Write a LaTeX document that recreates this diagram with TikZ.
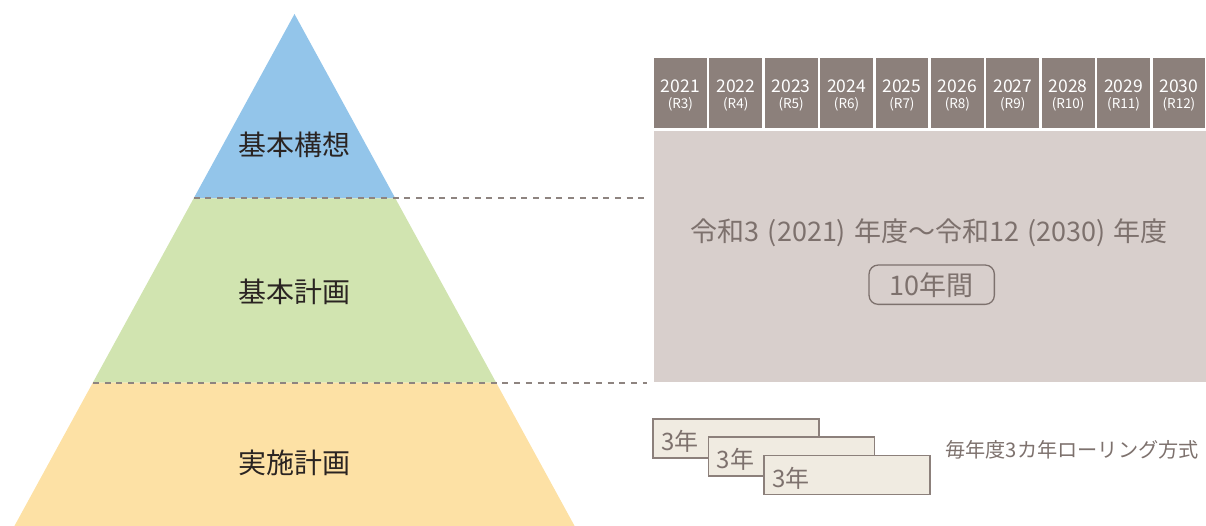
\documentclass[tikz,border=0pt]{standalone}
\usepackage{fontspec}
\setmainfont{Noto Sans CJK JP}
\definecolor{pblue}{HTML}{93C5EA}
\definecolor{pgreen}{HTML}{D1E4B0}
\definecolor{pyellow}{HTML}{FDE1A5}
\definecolor{hdr}{HTML}{8C807B}
\definecolor{boxgray}{HTML}{D8CFCC}
\definecolor{txtgray}{HTML}{7D716D}
\definecolor{dashgray}{HTML}{8E8480}
\definecolor{rollfill}{HTML}{F0EBE1}
\definecolor{darktext}{HTML}{2A2422}
\newcommand{\lp}{\hspace{0.3em}(}
\newcommand{\rp}{)\hspace{0.3em}}
\tikzset{
  plabel/.style={text=darktext, font=\fontsize{28}{30}\selectfont, inner sep=0pt},
  dashline/.style={draw=dashgray, line width=2pt, dash pattern=on 6pt off 5.7pt},
  yearbox/.style={fill=hdr, text=white, minimum width=52.7pt, minimum height=69.4pt, inner sep=0pt, align=center},
  rollbox/.style={draw=hdr, fill=rollfill, line width=1.6pt, minimum width=166pt, minimum height=39pt, inner sep=0pt},
  rolltext/.style={text=txtgray, font=\fontsize{24}{25}\selectfont, inner sep=0pt, anchor=west},
}
\begin{document}
\begin{tikzpicture}[x=1pt,y=-1pt]
\useasboundingbox (0,0) rectangle (1206,526);
% pyramid
\fill[pblue] (294.5,14) -- (395.3,198.3) -- (193.7,198.3) -- cycle;
\fill[pgreen] (193.7,198.3) -- (395.3,198.3) -- (496.1,382.5) -- (92.9,382.5) -- cycle;
\fill[pyellow] (92.9,382.5) -- (496.1,382.5) -- (574.6,526) -- (14.4,526) -- cycle;
\coordinate (d1s) at (193.7,198.3);
\coordinate (d1e) at (646.7,198.3);
\coordinate (d2s) at (92.9,382.5);
\coordinate (d2e) at (646.7,382.5);
\draw[dashline] (d1s) -- (d1e);
\draw[dashline] (d2s) -- (d2e);
\node[plabel] (kousou) at (294.5,145) {基本構想};
\node[plabel] (keikaku) at (294.5,292) {基本計画};
\node[plabel] (jisshi) at (294.5,463) {実施計画};
% year header
\foreach \i/\yr/\r in {0/2021/R3,1/2022/R4,2/2023/R5,3/2024/R6,4/2025/R7,5/2026/R8,6/2027/R9,7/2028/R10,8/2029/R11,9/2030/R12}{
  \node[yearbox] (y\i) at ({680.35+55.4*\i},93) {};
  \node[text=white, inner sep=0pt, font=\fontsize{17.5}{18}\selectfont] (yt\i) at ({680.35+55.4*\i},86) {\yr};
  \node[text=white, inner sep=0pt, font=\fontsize{13.5}{14}\selectfont] (yr\i) at ({680.35+55.4*\i},104) {(\r)};
}
% period box
\node[fill=boxgray, minimum width=552pt, minimum height=250.7pt, inner sep=0pt] (period) at (930,256.35) {};
\node[text=txtgray, inner sep=0pt, font=\fontsize{27}{30}\selectfont] (range) at (929.2,233) {令和3\lp2021\rp 年度〜令和12\lp2030\rp 年度};
\node[draw=txtgray, line width=1.3pt, rounded corners=9pt, text=txtgray, minimum width=125.3pt, minimum height=39.3pt, inner sep=0pt, font=\fontsize{27}{30}\selectfont] (ten) at (931.7,284.7) {10年間};
% rolling boxes
\node[rollbox] (r1) at (735.8,438.3) {};
\node[rolltext] (rt1) at ([xshift=9pt,yshift=-3pt]r1.west) {3年};
\node[rollbox] (r2) at (791.5,456.7) {};
\node[rolltext] (rt2) at ([xshift=9pt,yshift=-3pt]r2.west) {3年};
\node[rollbox] (r3) at (847,475) {};
\node[rolltext] (rt3) at ([xshift=9pt,yshift=-3pt]r3.west) {3年};
\node[text=txtgray, inner sep=0pt, anchor=west, font=\fontsize{20.2}{21}\selectfont] (rolling) at (945,450) {毎年度3カ年ローリング方式};
\end{tikzpicture}
\end{document}
